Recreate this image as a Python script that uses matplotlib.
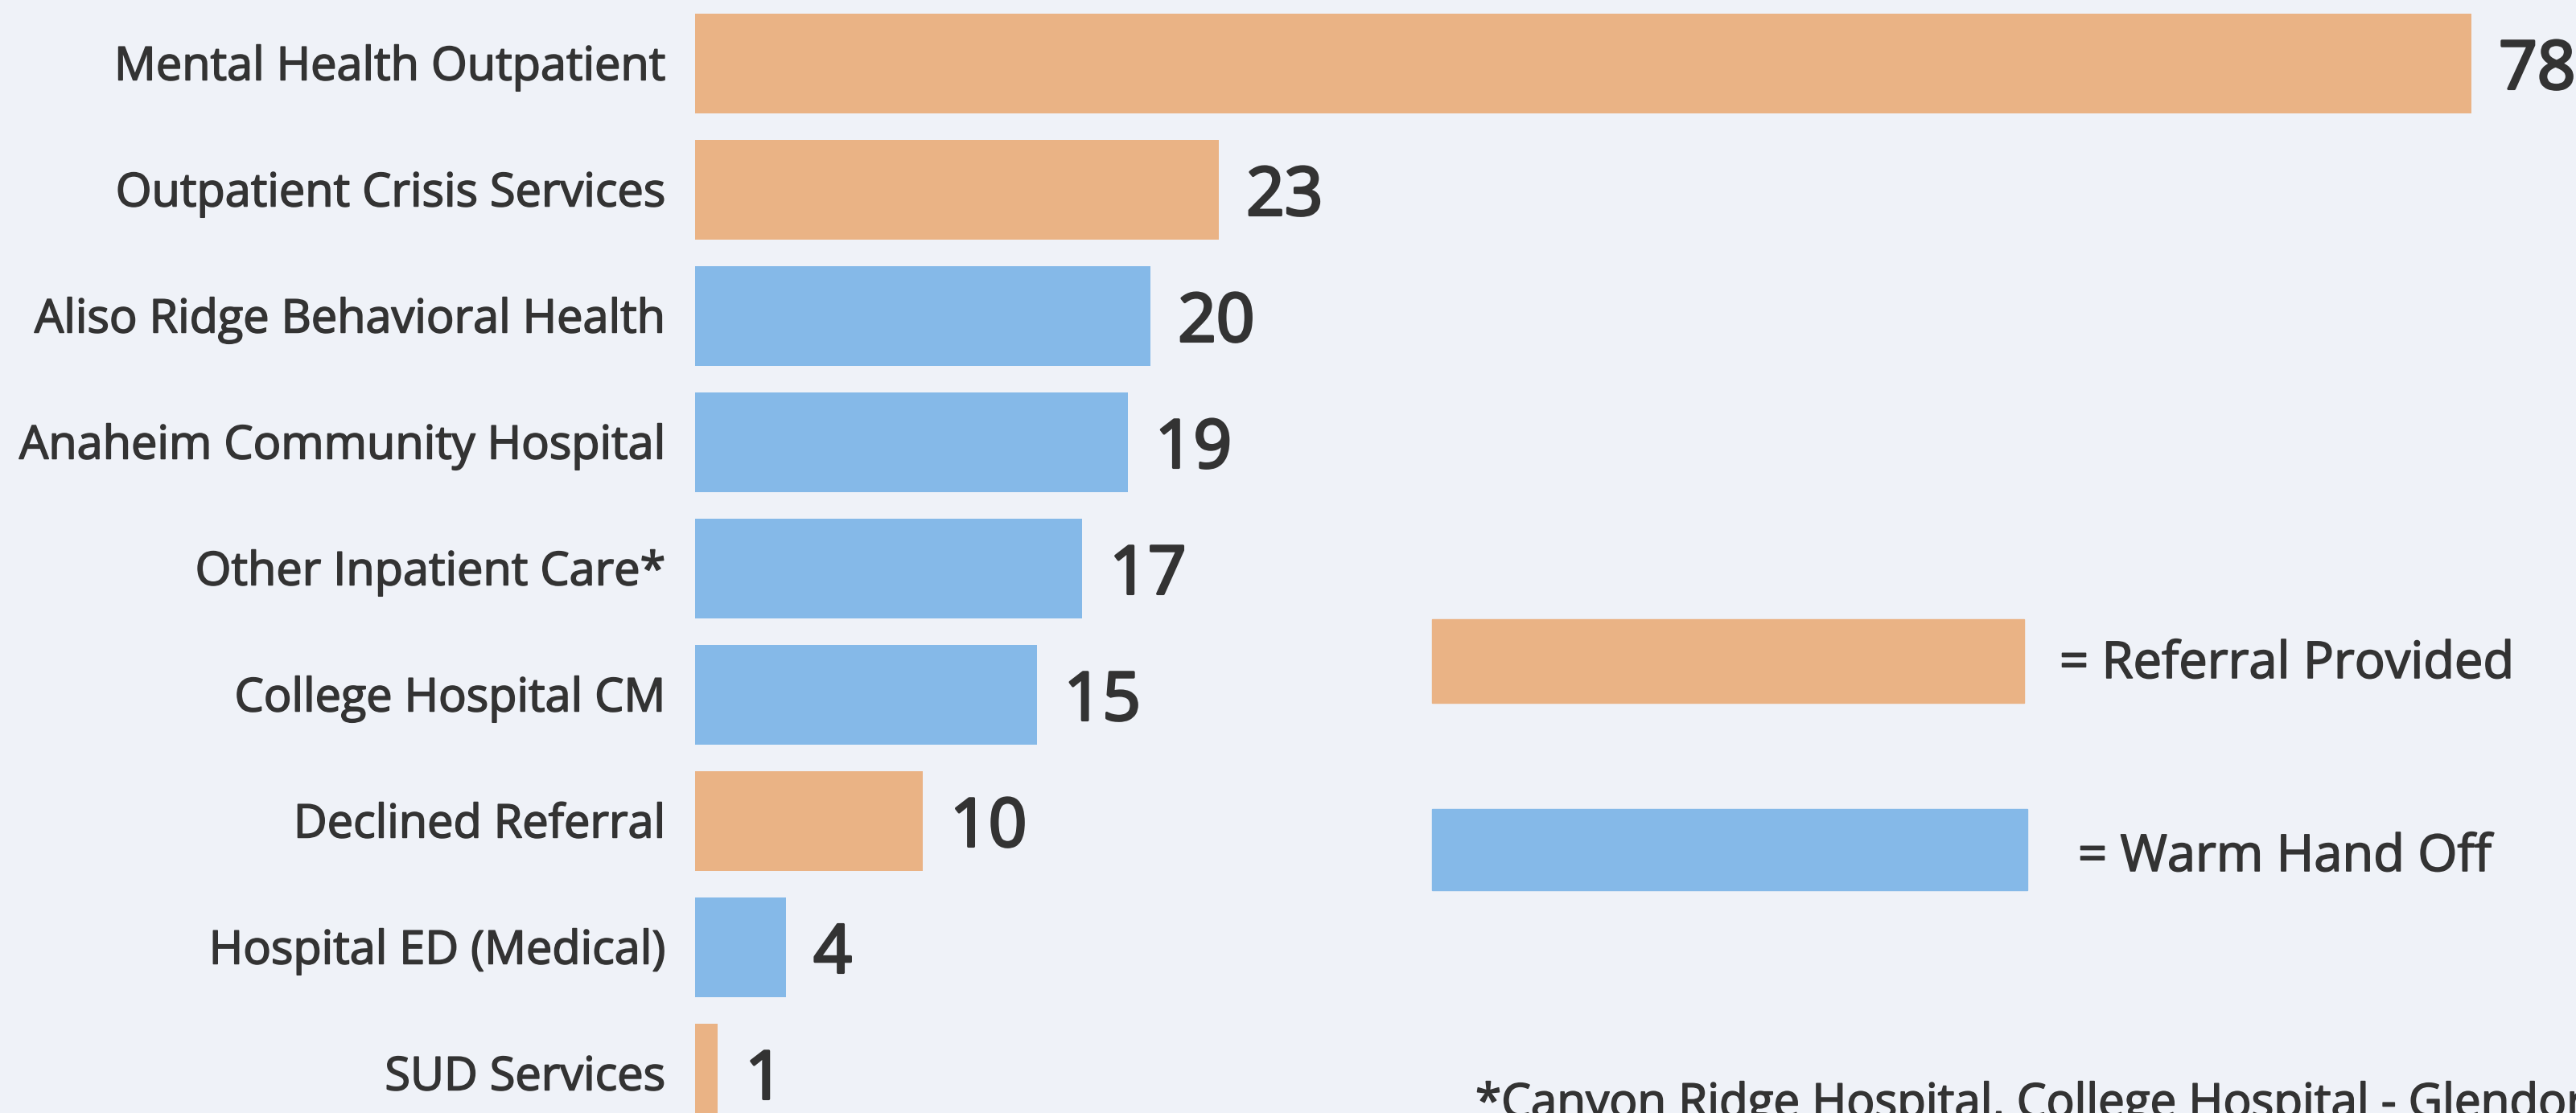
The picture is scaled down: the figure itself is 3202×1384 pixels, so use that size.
import matplotlib
matplotlib.use("Agg")
import matplotlib.pyplot as plt
import matplotlib.patheffects as pe
from matplotlib.patches import Rectangle

categories = ["Mental Health Outpatient", "Outpatient Crisis Services", "Aliso Ridge Behavioral Health",
              "Anaheim Community Hospital", "Other Inpatient Care*", "College Hospital CM",
              "Declined Referral", "Hospital ED (Medical)", "SUD Services"]
values = [78, 23, 20, 19, 17, 15, 10, 4, 1]
kinds = ["ref", "ref", "warm", "warm", "warm", "warm", "ref", "warm", "ref"]
legend_labels = ["= Referral Provided", "= Warm Hand Off"]
footnote = "*Canyon Ridge Hospital, College Hospital - Glendora"

bg = "#eff2f8"
colors = {"ref": "#eab385", "warm": "#85b9e8"}
txt = "#333333"
W, H = 3202, 1384
thick = [pe.withStroke(linewidth=1.2, foreground=txt)]
thicker = [pe.withStroke(linewidth=2.4, foreground=txt)]

plt.rcParams["font.family"] = ["Open Sans", "DejaVu Sans"]

fig = plt.figure(figsize=(W / 100, H / 100), dpi=100, facecolor=bg)
ax = fig.add_axes([864 / W, 0, 1 - 864 / W, 1])
ax.set_facecolor(bg)

ys = list(range(len(values)))
ax.barh(ys, values, height=0.79, color=[colors[k] for k in kinds])
ax.set_xlim(0, (W - 864) / 28.31)
ax.set_ylim((H - 79) / 157, -79 / 157)
ax.axis("off")

for y, cat, v in zip(ys, categories, values):
    ax.annotate(cat, (0, y + 0.13), xytext=(-37 * 0.72, 0), textcoords="offset points",
                ha="right", va="baseline", fontsize=41.5, color=txt, path_effects=thick)
    ax.annotate(str(v), (v, y + 0.2), xytext=(34 * 0.72, 0), textcoords="offset points",
                ha="left", va="baseline", fontsize=60, color=txt, path_effects=thicker)

# legend boxes (pixel positions from top-left)
boxes = [(1780, 770, 736, 104), (1780, 1006, 740, 101)]
text_pos = [(2560, 843), (2583, 1083)]
for (x, y, w, h), k, lab, (tx, ty) in zip(boxes, ["ref", "warm"], legend_labels, text_pos):
    fig.patches.append(Rectangle((x / W, 1 - (y + h) / H), w / W, h / H, transform=fig.transFigure,
                                 color=colors[k]))
    fig.text(tx / W, 1 - ty / H, lab, fontsize=45.5, color=txt, ha="left", va="baseline",
             path_effects=thick)

fig.text(1834 / W, 1 - 1389 / H, footnote, fontsize=42, color=txt, ha="left", va="baseline",
         path_effects=thick)

fig.savefig("out.png", dpi=100, facecolor=bg)
